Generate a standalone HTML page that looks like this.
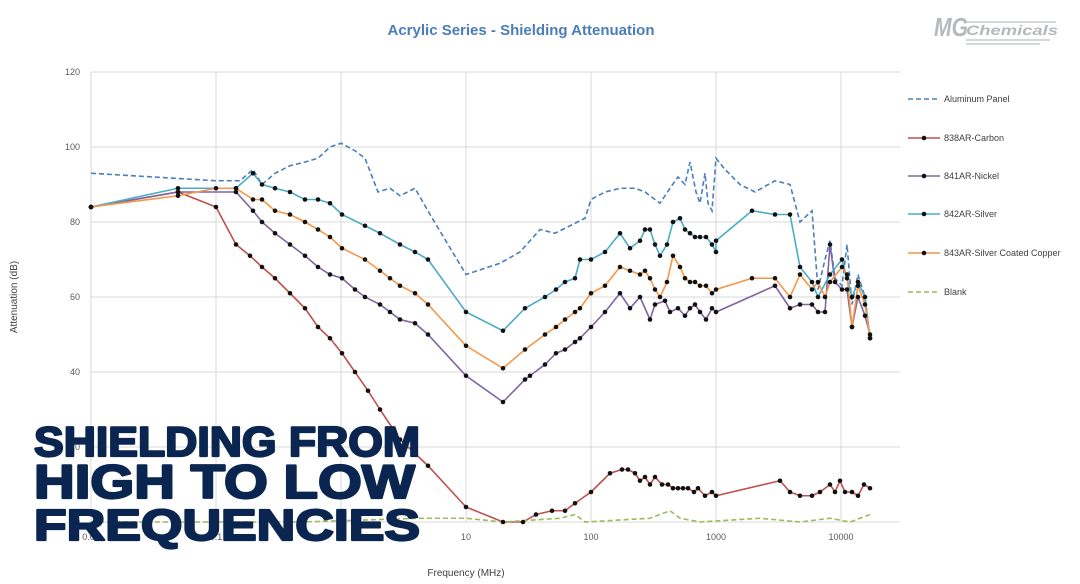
<!DOCTYPE html>
<html><head><meta charset="utf-8"><style>body{margin:0;background:#fff}svg{display:block}</style></head>
<body>
<svg id="s" width="1080" height="584" xmlns="http://www.w3.org/2000/svg" font-family="Liberation Sans, sans-serif">
<rect width="1080" height="584" fill="#fff"/>
<text x="521" y="35" text-anchor="middle" font-size="15" font-weight="bold" fill="#4a7ebb">Acrylic Series - Shielding Attenuation</text>
<g id="grid" stroke="#d9d9d9" stroke-width="1"></g>
<g id="ticks" font-size="9" fill="#595959"></g>
<text x="466" y="576" text-anchor="middle" font-size="10" fill="#404040">Frequency (MHz)</text>
<text transform="translate(17,297) rotate(-90)" text-anchor="middle" font-size="10" fill="#404040">Attenuation (dB)</text>
<g id="series"></g>
<g id="legend" font-size="9" fill="#404040"></g>
<g font-style="italic" font-weight="bold" fill="#b5b8bd">
<text x="934" y="36" font-size="26" textLength="34" lengthAdjust="spacingAndGlyphs">MG</text>
<text x="966" y="35" font-size="14" textLength="92" lengthAdjust="spacingAndGlyphs">Chemicals</text>
</g>
<g stroke="#c8cacd" stroke-width="1.5"><line x1="966" y1="22" x2="1056" y2="22"/><line x1="966" y1="40" x2="1050" y2="40"/><line x1="966" y1="44" x2="1040" y2="44"/></g>
<g font-weight="bold" fill="#0a2650" stroke="#0a2650" stroke-width="2.2" stroke-linejoin="round" font-family="Liberation Sans, sans-serif">
<text x="34" y="456" font-size="42" textLength="386" lengthAdjust="spacingAndGlyphs">SHIELDING FROM</text>
<text x="34" y="498" font-size="47" textLength="381" lengthAdjust="spacingAndGlyphs">HIGH TO LOW</text>
<text x="34" y="540" font-size="44" textLength="386" lengthAdjust="spacingAndGlyphs">FREQUENCIES</text>
</g>
</svg>
<script>
const NS="http://www.w3.org/2000/svg";
function el(p,t,a){const e=document.createElementNS(NS,t);for(const k in a)e.setAttribute(k,a[k]);p.appendChild(e);return e;}
const Y=d=>522-3.75*d;
const g=document.getElementById('grid'),tk=document.getElementById('ticks');
for(let d=0;d<=120;d+=20){el(g,'line',{x1:91,x2:900,y1:Y(d),y2:Y(d)});const t=el(tk,'text',{x:80,y:Y(d)+3,'text-anchor':'end'});t.textContent=d;}
const xl=['0.01','0.1','1','10','100','1000','10000'];
for(let i=0;i<7;i++){const x=91+125*i;el(g,'line',{x1:x,x2:x,y1:72,y2:522});const t=el(tk,'text',{x:x,y:540,'text-anchor':'middle'});t.textContent=xl[i];}
const S=[
{n:'Aluminum Panel',c:'#4a7ebb',dash:'5,3',m:false,p:[[91,93],[216,91],[240,91],[253,94],[262,90],[275,93],[290,95],[305,96],[318,97],[330,100],[341,101],[355,99],[365,97],[378,88],[390,89],[400,87],[415,89],[430,82],[466,66],[500,69],[520,72],[540,78],[555,77],[570,79],[585,81],[591,86],[605,88],[620,89],[635,89],[645,88],[655,86],[660,85],[670,89],[678,92],[685,90],[690,96],[696,88],[700,85],[705,93],[708,85],[712,83],[716,97],[725,94],[740,90],[755,88],[775,91],[790,90],[800,80],[812,83],[818,62],[825,70],[830,75],[835,65],[842,63],[847,74],[852,58],[858,66],[865,60],[870,49]]},
{n:'838AR-Carbon',c:'#c0504d',m:true,p:[[91,84],[178,88],[216,84],[236,74],[250,71],[262,68],[275,65],[290,61],[305,57],[318,52],[330,49],[342,45],[355,40],[368,35],[380,30],[400,22],[428,15],[466,4],[503,0],[523,0],[536,2],[552,3],[565,3],[575,5],[591,8],[610,13],[622,14],[628,14],[635,13],[640,11],[645,12],[650,10],[655,12],[662,10],[668,10],[673,9],[678,9],[683,9],[688,9],[694,8],[698,9],[705,7],[712,8],[716,7],[780,11],[790,8],[800,7],[812,7],[820,8],[830,10],[835,8],[840,11],[845,8],[852,8],[858,7],[864,10],[870,9]]},
{n:'841AR-Nickel',c:'#8064a2',m:true,p:[[91,84],[178,88],[236,88],[253,83],[262,80],[275,77],[290,74],[305,71],[318,68],[330,66],[342,65],[355,62],[365,60],[380,58],[390,56],[400,54],[415,53],[428,50],[466,39],[503,32],[525,38],[530,39],[545,42],[556,45],[565,46],[575,48],[580,49],[591,52],[605,56],[620,61],[630,57],[640,60],[650,54],[655,58],[665,59],[670,56],[678,57],[685,55],[690,57],[695,58],[700,56],[706,54],[712,57],[716,56],[775,63],[790,57],[800,58],[812,58],[818,56],[825,56],[830,74],[835,64],[842,62],[847,62],[852,52],[858,60],[865,55],[870,50]]},
{n:'842AR-Silver',c:'#4bacc6',m:true,p:[[91,84],[178,89],[236,89],[253,93],[262,90],[275,89],[290,88],[305,86],[318,86],[330,85],[342,82],[365,79],[380,77],[400,74],[415,72],[428,70],[466,56],[503,51],[525,57],[545,60],[556,62],[565,64],[575,65],[580,70],[591,70],[605,72],[620,77],[630,73],[640,75],[645,78],[650,78],[655,74],[660,71],[667,74],[673,80],[680,81],[685,78],[690,77],[695,76],[700,76],[706,76],[712,74],[716,72],[716,75],[752,83],[775,82],[790,82],[800,68],[812,64],[818,60],[830,66],[842,70],[847,65],[852,60],[858,64],[865,60],[870,49]]},
{n:'843AR-Silver Coated Copper',c:'#f79646',m:true,p:[[91,84],[178,87],[216,89],[236,89],[253,86],[262,86],[275,83],[290,82],[305,80],[318,78],[330,76],[342,73],[365,70],[380,67],[390,65],[400,63],[415,61],[428,58],[466,47],[503,41],[525,46],[545,50],[556,52],[565,54],[575,56],[580,57],[591,61],[605,63],[620,68],[630,67],[640,66],[645,67],[650,65],[655,62],[660,60],[667,64],[673,71],[680,68],[685,65],[690,64],[695,64],[700,63],[706,63],[712,61],[716,62],[752,65],[775,65],[790,60],[800,66],[812,62],[818,64],[825,60],[830,64],[842,68],[847,66],[852,52],[858,63],[865,58],[870,49]]},
{n:'Blank',c:'#9bbb59',dash:'5,3',m:false,p:[[91,0],[300,0],[420,1],[466,1],[503,0],[560,1],[575,2],[585,0],[650,1],[670,3],[680,1],[700,0],[760,1],[800,0],[830,1],[850,0],[870,2]]}
];
const sg=document.getElementById('series'),lg=document.getElementById('legend');
const ly=[99,138,176,214,253,292];
S.forEach((s,i)=>{
 const d=s.p.map((q,j)=>(j?'L':'M')+q[0]+','+Y(q[1])).join(' ');
 const a={d:d,fill:'none',stroke:s.c,'stroke-width':1.6};if(s.dash)a['stroke-dasharray']=s.dash;el(sg,'path',a);
 const la={x1:908,x2:940,y1:ly[i],y2:ly[i],stroke:s.c,'stroke-width':1.6};if(s.dash)la['stroke-dasharray']=s.dash;el(lg,'line',la);
 if(s.m)el(lg,'circle',{cx:924,cy:ly[i],r:2.3,fill:'#111'});
 const t=el(lg,'text',{x:944,y:ly[i]+3});t.textContent=s.n;
});
S.forEach(s=>{if(s.m)s.p.forEach(q=>el(sg,'circle',{cx:q[0],cy:Y(q[1]),r:2.3,fill:'#111'}));});
</script>
</body></html>
